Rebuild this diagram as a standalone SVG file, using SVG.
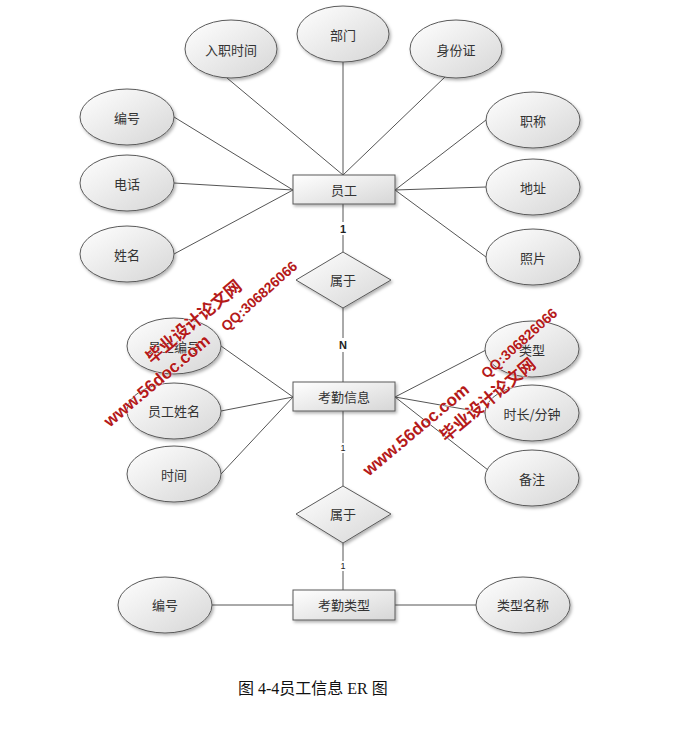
<svg xmlns="http://www.w3.org/2000/svg" width="686" height="748" viewBox="0 0 686 748">
<defs>
<linearGradient id="g" x1="0" y1="0" x2="1" y2="1">
<stop offset="0" stop-color="#ffffff"/>
<stop offset="1" stop-color="#d6d6d6"/>
</linearGradient>
<filter id="sh" x="-20%" y="-20%" width="150%" height="150%">
<feDropShadow dx="1.5" dy="2" stdDeviation="1.5" flood-color="#000" flood-opacity="0.3"/>
</filter>
</defs>
<style>
.e{fill:url(#g);stroke:#5a5a5a;stroke-width:1;filter:url(#sh)}
.r{fill:url(#g);stroke:#5a5a5a;stroke-width:1;filter:url(#sh)}
.t{font-family:"Noto Sans CJK SC",sans-serif;font-size:13px;fill:#333;text-anchor:middle;dominant-baseline:central}
.c line{stroke:#555;stroke-width:1}
.lb{font-family:"Liberation Sans",sans-serif;font-weight:bold;font-size:11px;fill:#222;text-anchor:middle;dominant-baseline:central}
.ls{font-family:"Liberation Sans",sans-serif;font-size:9px;fill:#222;text-anchor:middle;dominant-baseline:central}
.wm{font-family:"Liberation Sans","Noto Sans CJK SC",sans-serif;font-weight:bold;fill:#b51a1a;text-anchor:middle;dominant-baseline:central;stroke:#fff;stroke-width:0.6;paint-order:stroke}
</style>
<rect width="686" height="748" fill="#fff"/>
<g class="c" id="connectors">
<line x1="227" y1="78" x2="343" y2="175"/>
<line x1="343" y1="62" x2="343" y2="175"/>
<line x1="446" y1="76" x2="343" y2="175"/>
<line x1="174" y1="117" x2="293" y2="190"/>
<line x1="174" y1="183" x2="293" y2="190"/>
<line x1="174" y1="254" x2="293" y2="190"/>
<line x1="486" y1="120" x2="395" y2="190"/>
<line x1="486" y1="187" x2="395" y2="190"/>
<line x1="486" y1="257" x2="395" y2="190"/>
<line x1="343" y1="204" x2="343" y2="222"/>
<line x1="343" y1="235" x2="343" y2="252"/>
<line x1="343" y1="308" x2="343" y2="338"/>
<line x1="343" y1="352" x2="343" y2="382"/>
<line x1="221" y1="346" x2="293" y2="397"/>
<line x1="221" y1="411" x2="293" y2="397"/>
<line x1="221" y1="474" x2="293" y2="397"/>
<line x1="395" y1="397" x2="486" y2="350"/>
<line x1="395" y1="397" x2="486" y2="413"/>
<line x1="395" y1="397" x2="488" y2="470"/>
<line x1="343" y1="411" x2="343" y2="443"/>
<line x1="343" y1="453" x2="343" y2="486"/>
<line x1="343" y1="543" x2="343" y2="561"/>
<line x1="343" y1="571" x2="343" y2="590"/>
<line x1="212" y1="605" x2="293" y2="605"/>
<line x1="395" y1="605" x2="476" y2="605"/>
<text class="lb" x="343" y="229">1</text>
<text class="lb" x="343" y="345">N</text>
<text class="ls" x="343" y="448">1</text>
<text class="ls" x="343" y="566">1</text>
</g>
<g id="a-rzsj"><ellipse class="e" cx="231" cy="49" rx="46" ry="29"/><text class="t" x="231" y="49">入职时间</text></g>
<g id="a-bm"><ellipse class="e" cx="343" cy="34" rx="46" ry="28"/><text class="t" x="343" y="34">部门</text></g>
<g id="a-sfz"><ellipse class="e" cx="456" cy="49" rx="46" ry="29"/><text class="t" x="456" y="49">身份证</text></g>
<g id="a-bh"><ellipse class="e" cx="127" cy="117" rx="47" ry="28"/><text class="t" x="127" y="117">编号</text></g>
<g id="a-dh"><ellipse class="e" cx="127" cy="183" rx="47" ry="28"/><text class="t" x="127" y="183">电话</text></g>
<g id="a-xm"><ellipse class="e" cx="127" cy="254" rx="47" ry="28"/><text class="t" x="127" y="254">姓名</text></g>
<g id="a-zc"><ellipse class="e" cx="533" cy="120" rx="47" ry="28"/><text class="t" x="533" y="120">职称</text></g>
<g id="a-dz"><ellipse class="e" cx="533" cy="187" rx="47" ry="28"/><text class="t" x="533" y="187">地址</text></g>
<g id="a-zp"><ellipse class="e" cx="533" cy="257" rx="47" ry="28"/><text class="t" x="533" y="257">照片</text></g>
<g id="e-yg"><rect class="r" x="293" y="175" width="102" height="29"/><text class="t" x="344" y="189">员工</text></g>
<g id="r-sy1"><polygon class="r" points="343,252 391,280 343,308 296,280"/><text class="t" x="343" y="279">属于</text></g>
<g id="e-kqxx"><rect class="r" x="293" y="382" width="102" height="29"/><text class="t" x="344" y="396">考勤信息</text></g>
<g id="a-ygbh"><ellipse class="e" cx="174" cy="346" rx="47" ry="28"/><text class="t" x="174" y="346">员工编号</text></g>
<g id="a-ygxm"><ellipse class="e" cx="174" cy="411" rx="47" ry="28"/><text class="t" x="174" y="410">员工姓名</text></g>
<g id="a-sj"><ellipse class="e" cx="174" cy="474" rx="47" ry="28"/><text class="t" x="174" y="474">时间</text></g>
<g id="a-lx"><ellipse class="e" cx="532" cy="349" rx="47" ry="28"/><text class="t" x="532" y="349">类型</text></g>
<g id="a-sc"><ellipse class="e" cx="532" cy="413" rx="47" ry="28"/><text class="t" x="532" y="413">时长/分钟</text></g>
<g id="a-bz"><ellipse class="e" cx="532" cy="478" rx="47" ry="28"/><text class="t" x="532" y="478">备注</text></g>
<g id="r-sy2"><polygon class="r" points="343,486 391,514 343,543 296,514"/><text class="t" x="343" y="513">属于</text></g>
<g id="e-kqlx"><rect class="r" x="293" y="590" width="102" height="30"/><text class="t" x="344" y="604">考勤类型</text></g>
<g id="a-bh2"><ellipse class="e" cx="165" cy="605" rx="47" ry="28"/><text class="t" x="165" y="604">编号</text></g>
<g id="a-lxmc"><ellipse class="e" cx="523" cy="605" rx="47" ry="28"/><text class="t" x="523" y="604">类型名称</text></g>
<text x="238" y="694" font-family="Liberation Serif,'Noto Sans CJK SC',serif" font-size="16" fill="#111">图 4-4员工信息 ER 图</text>
<g id="watermark">
<text class="wm" font-size="17" transform="translate(194,322) rotate(-40)">毕业设计论文网</text>
<text class="wm" font-size="14" transform="translate(259,296) rotate(-42)">QQ:306826066</text>
<text class="wm" font-size="17" transform="translate(157,381) rotate(-40)">www.56doc.com</text>
<text class="wm" font-size="14" transform="translate(519,343) rotate(-42)">QQ:306826066</text>
<text class="wm" font-size="17" transform="translate(416,430) rotate(-40)">www.56doc.com</text>
<text class="wm" font-size="17" transform="translate(488,400) rotate(-40)">毕业设计论文网</text>
</g>
</svg>
